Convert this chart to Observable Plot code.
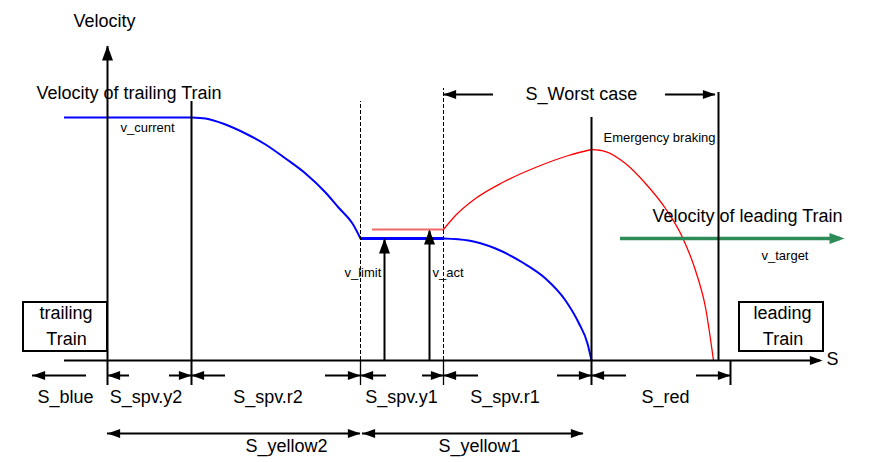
<!DOCTYPE html>
<html><head><meta charset="utf-8">
<script src="https://cdn.jsdelivr.net/npm/d3@7"></script>
<script src="https://cdn.jsdelivr.net/npm/@observablehq/plot@0.6"></script>
<style>body{margin:0;background:#fff}</style>
</head><body><div id="chart"></div>
<script>
// ---- schematic data: s = distance (0 = front of trailing train), v = velocity ----
const sBoundaries = [0, 84, 253, 336, 484, 623];
const dimLabels = ["S_blue", "S_spv.y2", "S_spv.r2", "S_spv.y1", "S_spv.r1", "S_red"];
const dimLabelS = [-42, 38.5, 160.5, 294, 397.5, 558];
const sTrailStart = -43;
const sLeadingRear = 611;
const sAxisEnd = 715;
const vCurrent = 243, vLimit = 122, vAct = 131, vTarget = 122;
const blueBrake1S = [84, 98, 118, 138, 158, 178, 198, 218, 231, 245, 253];
const blueBrake1V = [243, 242, 236, 227, 216, 202, 187, 168, 153, 137, 122];
const blueBrake2S = [336, 361, 388, 415, 438, 458, 471, 480, 484];
const blueBrake2V = [122, 120, 112, 98, 82, 60, 38, 17, 0];
const redRiseS = [336, 348, 368, 395, 428, 461, 484];
const redRiseV = [131, 145, 162, 178, 193, 205, 211];
const redFallS = [484, 498, 518, 538, 558, 575, 588, 598, 606];
const redFallV = [211, 209, 197, 177, 152, 123, 90, 53, 0];
const sActStart = 265;
const sLimitArrow = 277, sActArrow = 322;
const greenS = [513, 737];
const trailingBox = [-84, 0, 9, 58];
const leadingBox = [632, 716, 9, 58];

// ---- helpers ----
const zip = (S, V) => S.map((s, i) => ({s, v: V[i]}));
const FONT = "Liberation Sans, Arial, Helvetica, sans-serif";
const arrowHead = {
  draw(ctx, size) {
    const r = Math.sqrt(size / Math.PI);
    const L = 3 * r, w = 1.1 * r;
    ctx.moveTo(0, 0); ctx.lineTo(w, L); ctx.lineTo(-w, L); ctx.closePath();
  }
};
const [b0, b1, b2, b3, b4, b5] = sBoundaries;

// vertical lines
const solidV = [
  {s: b0, v1: -25, v2: 314},
  {s: b1, v1: -25, v2: 259},
  {s: b4, v1: -25, v2: 243},
  {s: sLeadingRear, v1: 0, v2: 268},
  {s: b5, v1: -25, v2: 0},
  {s: sLimitArrow, v1: 0, v2: vLimit - 2},
  {s: sActArrow, v1: 0, v2: vAct - 2}
];
const thinTicks = [{s: b2, v1: -25, v2: 0}, {s: b3, v1: -25, v2: 0}];
const dashedV = [{s: b2, v1: 0, v2: 259}, {s: b3, v1: 0, v2: 272}];

// horizontal black segments (axis + dimension shafts)
const vDim = -15, vYellow = -73, vWorst = 266;
const hSegs = [
  {s1: sTrailStart, s2: sAxisEnd - 2, v: 0},
  {s1: -75, s2: -21, v: vDim},
  {s1: b0, s2: 22, v: vDim}, {s1: 62, s2: b1, v: vDim},
  {s1: b1, s2: 118, v: vDim}, {s1: 218, s2: b2, v: vDim},
  {s1: b2, s2: 279, v: vDim}, {s1: 315, s2: b3, v: vDim},
  {s1: b3, s2: 371, v: vDim}, {s1: 450, s2: b4, v: vDim},
  {s1: b4, s2: 519, v: vDim}, {s1: 589, s2: b5, v: vDim},
  {s1: b0, s2: b2, v: vYellow}, {s1: b2 + 2, s2: 476, v: vYellow},
  {s1: b3, s2: 386, v: vWorst}, {s1: 558, s2: 608, v: vWorst}
];
const headsSmall = [
  {s: sAxisEnd, v: 0, rot: 90},
  {s: -75, v: vDim, rot: -90},
  {s: b0, v: vDim, rot: -90}, {s: b1, v: vDim, rot: 90},
  {s: b1, v: vDim, rot: -90}, {s: b2, v: vDim, rot: 90},
  {s: b2, v: vDim, rot: -90}, {s: b3, v: vDim, rot: 90},
  {s: b3, v: vDim, rot: -90}, {s: b4, v: vDim, rot: 90},
  {s: b4, v: vDim, rot: -90}, {s: b5, v: vDim, rot: 90},
  {s: b0, v: vYellow, rot: -90}, {s: b2, v: vYellow, rot: 90},
  {s: b2 + 2, v: vYellow, rot: -90}, {s: 476, v: vYellow, rot: 90},
  {s: b3, v: vWorst, rot: -90}, {s: 608, v: vWorst, rot: 90}
];
const headsBig = [
  {s: b0, v: 315, rot: 0},
  {s: sLimitArrow, v: vLimit, rot: 0},
  {s: sActArrow, v: vAct, rot: 0}
];

// texts
const bigStart = [
  {s: -34, v: 339, t: "Velocity"},
  {s: -71, v: 267, t: "Velocity of trailing Train"},
  {s: 418, v: 266, t: "S_Worst case"},
  {s: 545, v: 144.5, t: "Velocity of leading Train"},
  {s: 719, v: 1, t: "S"}
];
const smallStart = [
  {s: 13, v: 233, t: "v_current"},
  {s: 496, v: 223, t: "Emergency braking"},
  {s: 654, v: 105, t: "v_target"},
  {s: 237, v: 88, t: "v_limit"},
  {s: 325, v: 88, t: "v_act"}
];
const bigMiddle = [
  {s: -41.5, v: 47, t: "trailing"}, {s: -41, v: 21, t: "Train"},
  {s: 675, v: 47, t: "leading"}, {s: 675.5, v: 21, t: "Train"},
  ...dimLabels.map((t, i) => ({s: dimLabelS[i], v: -37, t})),
  {s: 179, v: -86, t: "S_yellow2"}, {s: 372, v: -86, t: "S_yellow1"}
];
const boxes = [trailingBox, leadingBox].map(([x1, x2, y1, y2]) => ({x1, x2, y1, y2}));

const blue = "#0000ff", red = "#ff0000", green = "#2e8b57";
const chart = Plot.plot({
  width: 870, height: 462, margin: 0,
  x: {domain: [-107, 763], axis: null},
  y: {domain: [-102, 360], axis: null},
  style: {fontFamily: FONT, background: "white"},
  marks: [
    Plot.rect(boxes, {x1: "x1", x2: "x2", y1: "y1", y2: "y2", fill: "none", stroke: "black", strokeWidth: 2}),
    // trailing train (blue)
    Plot.ruleY([{v: vCurrent}], {y: "v", x1: sTrailStart, x2: b1, stroke: blue, strokeWidth: 2.2}),
    Plot.line(zip(blueBrake1S, blueBrake1V), {x: "s", y: "v", stroke: blue, strokeWidth: 2, curve: "monotone-x"}),
    Plot.ruleY([{v: vLimit}], {y: "v", x1: b2, x2: b3, stroke: blue, strokeWidth: 3}),
    Plot.line(zip(blueBrake2S, blueBrake2V), {x: "s", y: "v", stroke: blue, strokeWidth: 2, curve: "monotone-x"}),
    // worst case (red)
    Plot.ruleY([{v: vAct}], {y: "v", x1: sActStart, x2: b3, stroke: "#f06a6a", strokeWidth: 2}),
    Plot.line(zip(redRiseS, redRiseV), {x: "s", y: "v", stroke: red, strokeWidth: 1.3, curve: "monotone-x"}),
    Plot.line(zip(redFallS, redFallV), {x: "s", y: "v", stroke: red, strokeWidth: 1.3, curve: "monotone-x"}),
    // leading train (green)
    Plot.ruleY([{v: vTarget}], {y: "v", x1: greenS[0], x2: greenS[1] - 4, stroke: green, strokeWidth: 3.5}),
    Plot.dot([{s: greenS[1], v: vTarget}], {x: "s", y: "v", r: 5, rotate: 90, symbol: arrowHead, fill: green, stroke: "none"}),
    // black structure
    Plot.ruleX(dashedV, {x: "s", y1: "v1", y2: "v2", stroke: "black", strokeWidth: 1, strokeDasharray: "4,2"}),
    Plot.ruleX(thinTicks, {x: "s", y1: "v1", y2: "v2", stroke: "black", strokeWidth: 1.3}),
    Plot.ruleX(solidV, {x: "s", y1: "v1", y2: "v2", stroke: "black", strokeWidth: 2}),
    Plot.ruleY(hSegs, {y: "v", x1: "s1", x2: "s2", stroke: "black", strokeWidth: 2}),
    Plot.dot(headsSmall, {x: "s", y: "v", rotate: "rot", r: 4.2, symbol: arrowHead, fill: "black", stroke: "none"}),
    Plot.dot(headsBig, {x: "s", y: "v", rotate: "rot", r: 5, symbol: arrowHead, fill: "black", stroke: "none"}),
    // texts
    Plot.text(bigStart, {x: "s", y: "v", text: "t", textAnchor: "start", fontSize: 18, fontFamily: FONT, fill: "black"}),
    Plot.text(smallStart, {x: "s", y: "v", text: "t", textAnchor: "start", fontSize: 13, fontFamily: FONT, fill: "black"}),
    Plot.text(bigMiddle, {x: "s", y: "v", text: "t", textAnchor: "middle", fontSize: 18, fontFamily: FONT, fill: "black"})
  ]
});
document.getElementById("chart").appendChild(chart);
</script>
</body></html>
